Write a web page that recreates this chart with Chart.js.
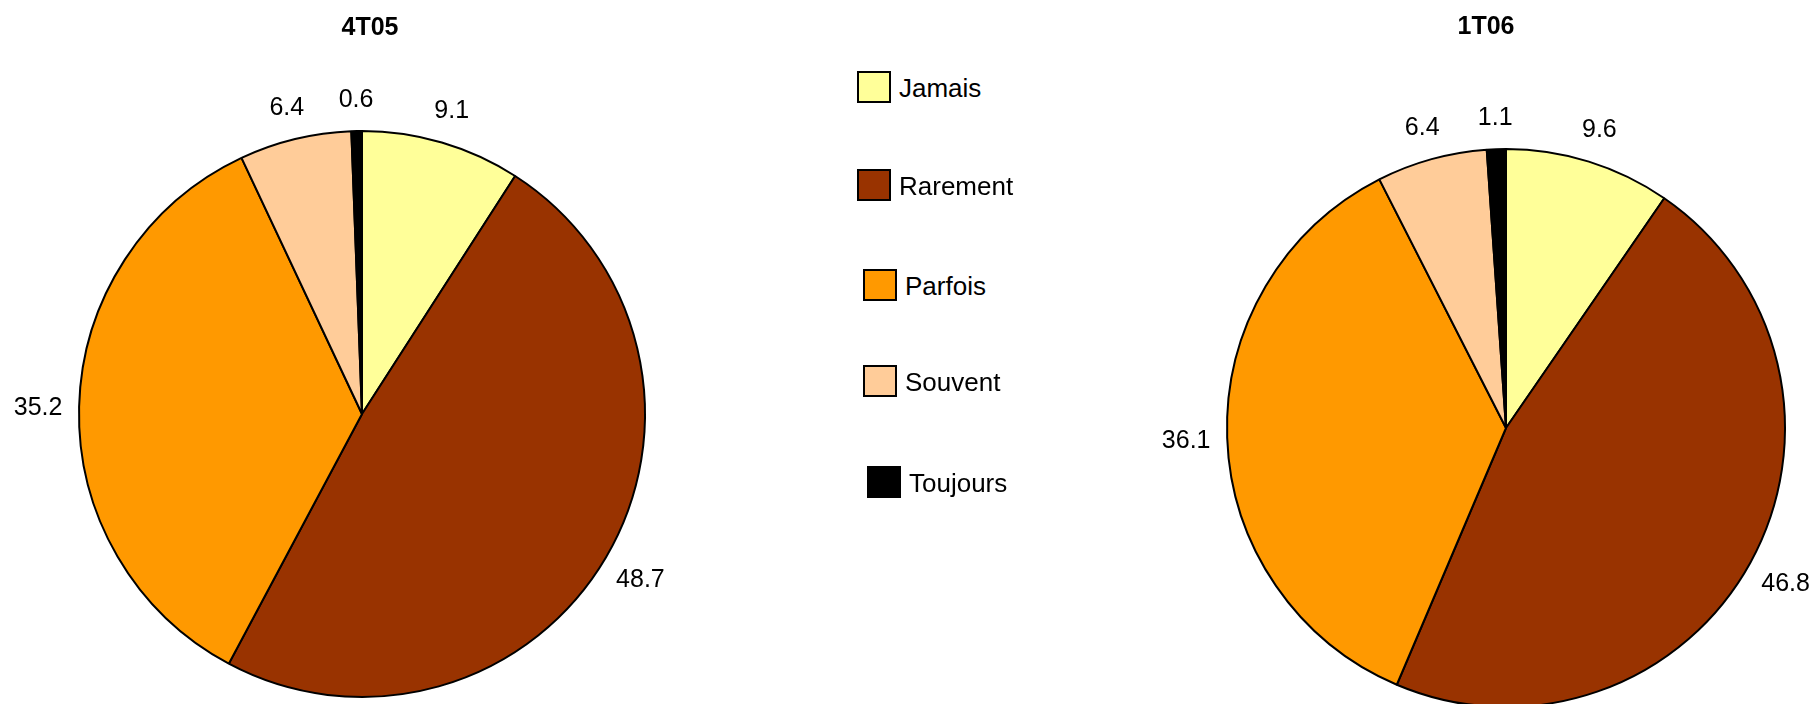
<!DOCTYPE html>
<html>
<head>
<meta charset="utf-8">
<script src="https://cdn.jsdelivr.net/npm/chart.js@4/dist/chart.umd.min.js"></script>
<style>
  html, body { margin: 0; padding: 0; background: #fff; overflow: hidden; }
  #page { position: relative; width: 1818px; height: 704px; overflow: hidden;
          font-family: "Liberation Sans", Arial, sans-serif; color: #000; }
  .pie { position: absolute; top: 0; height: 720px; }
  .title { position: absolute; font-weight: bold; font-size: 25px; transform: translate(-50%, -50%); white-space: nowrap; }
  .item { position: absolute; display: flex; align-items: center; height: 32px; }
  .swatch { width: 30px; height: 28px; border: 2px solid #000; margin-right: 8px; }
  .item span { font-size: 26px; line-height: 32px; padding-top: 2px; }
</style>
</head>
<body>
<div id="page">
  <div class="pie" style="left:0;width:760px"><canvas id="pie1"></canvas></div>
  <div class="pie" style="left:1000px;width:818px"><canvas id="pie2"></canvas></div>
  <div class="title" style="left:370px;top:26px">4T05</div>
  <div class="title" style="left:1486px;top:25px">1T06</div>
  <div id="legend"></div>
</div>
<script>
// categories and colours
const categories = ["Jamais", "Rarement", "Parfois", "Souvent", "Toujours"];
const colors = ["#FFFF99", "#993300", "#FF9900", "#FFCC99", "#000000"];

// percentages per period
const values4T05 = [9.1, 48.7, 35.2, 6.4, 0.6];
const values1T06 = [9.6, 46.8, 36.1, 6.4, 1.1];

// legend layout (left edge, top of each swatch)
const legendX = [857, 857, 863, 863, 867];
const legendY = [71, 169, 269, 365, 466];

const legend = document.getElementById("legend");
categories.forEach((c, i) => {
  const item = document.createElement("div");
  item.className = "item";
  item.style.left = legendX[i] + "px";
  item.style.top = legendY[i] + "px";
  item.innerHTML = `<div class="swatch" style="background:${colors[i]}"></div><span>${c}</span>`;
  legend.appendChild(item);
});

// value labels outside each slice
const sliceLabels = {
  id: "sliceLabels",
  afterDatasetsDraw(chart) {
    const ctx = chart.ctx;
    const meta = chart.getDatasetMeta(0);
    const data = chart.data.datasets[0].data;
    ctx.save();
    ctx.font = '25px "Liberation Sans", Arial, sans-serif';
    ctx.fillStyle = "#000";
    ctx.textAlign = "center";
    ctx.textBaseline = "middle";
    meta.data.forEach((arc, i) => {
      const p = arc.getProps(["x", "y", "startAngle", "endAngle", "outerRadius"]);
      const a = (p.startAngle + p.endAngle) / 2;
      const d = p.outerRadius + 33 + 8 * Math.abs(Math.cos(a));
      ctx.fillText(data[i].toFixed(1), p.x + Math.cos(a) * d, p.y + Math.sin(a) * d + 2.5);
    });
    ctx.restore();
  }
};

function makePie(id, values, padding) {
  new Chart(document.getElementById(id), {
    type: "pie",
    data: {
      labels: categories,
      datasets: [{
        data: values,
        backgroundColor: colors,
        borderColor: "#000",
        borderWidth: 2,
        hoverOffset: 0
      }]
    },
    options: {
      responsive: true,
      maintainAspectRatio: false,
      animation: false,
      events: [],
      layout: { padding: padding },
      plugins: {
        legend: { display: false },
        title: { display: false },
        tooltip: { enabled: false }
      }
    },
    plugins: [sliceLabels]
  });
}

makePie("pie1", values4T05, { left: 78, right: 114, top: 130, bottom: 22 });
makePie("pie2", values1T06, { left: 226, right: 32, top: 148, bottom: 12 });
</script>
</body>
</html>
